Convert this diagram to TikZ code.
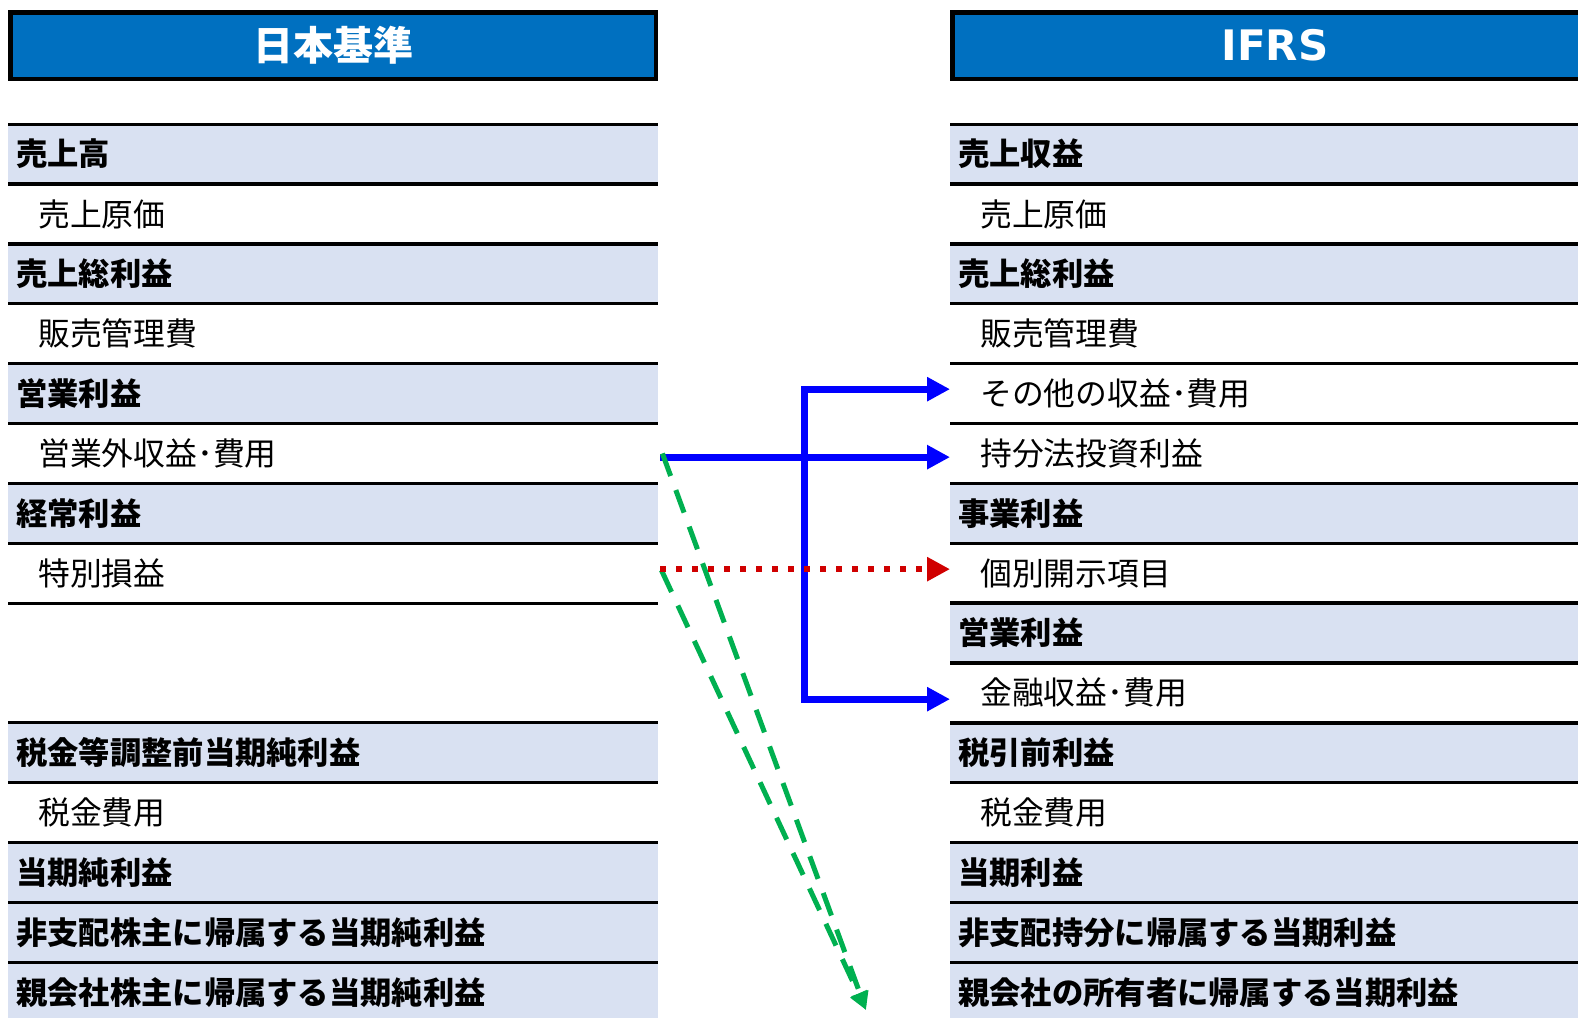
\documentclass[tikz,border=0pt]{standalone}
\usepackage{fontspec}
\setmainfont{Noto Sans CJK JP}
\newfontfamily\dvs{DejaVu Sans}
\usetikzlibrary{arrows.meta}
\definecolor{hdrblue}{HTML}{0070C0}
\definecolor{rowfill}{HTML}{D9E1F2}
\definecolor{arrblue}{HTML}{0000FF}
\definecolor{arrred}{HTML}{D00000}
\definecolor{arrgreen}{HTML}{00B050}
\begin{document}
\begin{tikzpicture}[x=1pt,y=-1pt,
 hdr/.style={draw=black, line width=4.5pt, fill=hdrblue, minimum width=645.5pt, minimum height=66.5pt, text=white, font=\fontsize{40}{40}\selectfont\bfseries, inner sep=0pt},
 rowbase/.style={anchor=north west, minimum width=650pt, minimum height=59.86pt, text width=634pt, inner xsep=8pt, inner ysep=0pt, align=left},
 brow/.style={rowbase, fill=rowfill, font=\fontsize{31.3}{32}\selectfont\bfseries},
 nrow/.style={rowbase, font=\fontsize{31.8}{32}\selectfont, execute at begin node=\hspace*{22pt}},
 sepline/.style={draw=black, line width=3pt},
 blueln/.style={draw=arrblue, line width=7pt},
 bigtip/.style={-{Triangle[length=23pt,width=23pt]}},
 redln/.style={draw=arrred, line width=6.5pt, dash pattern=on 6pt off 10pt, -{Triangle[length=23pt,width=23pt]}},
 greenln/.style={draw=arrgreen, line width=5pt, dash pattern=on 24pt off 15pt, -{Triangle[length=18pt,width=17pt]}}
]
\useasboundingbox (0,0) rectangle (1578,1017);
\clip (0,0) rectangle (1578,1017);
\fill[white] (0,0) rectangle (1578,1017);

% headers
\node[hdr] (HL) at (333,45.5) {日本基準};
\node[hdr, font=\dvs\bfseries\fontsize{42}{42}\selectfont] (HR) at (1275,45.5) {IFRS};

% left rows
\foreach \i/\s/\t in {0/brow/売上高, 1/nrow/売上原価, 2/brow/売上総利益, 3/nrow/販売管理費, 4/brow/営業利益, 5/nrow/営業外収益･費用, 6/brow/経常利益, 7/nrow/特別損益, 10/brow/税金等調整前当期純利益, 11/nrow/税金費用, 12/brow/当期純利益, 13/brow/非支配株主に帰属する当期純利益, 14/brow/親会社株主に帰属する当期純利益}
  \node[\s] (L\i) at (8,{124+59.86*\i}) {\t};

% right rows
\foreach \i/\s/\t in {0/brow/売上収益, 1/nrow/売上原価, 2/brow/売上総利益, 3/nrow/販売管理費, 4/nrow/その他の収益･費用, 5/nrow/持分法投資利益, 6/brow/事業利益, 7/nrow/個別開示項目, 8/brow/営業利益, 9/nrow/金融収益･費用, 10/brow/税引前利益, 11/nrow/税金費用, 12/brow/当期利益, 13/brow/非支配持分に帰属する当期利益, 14/brow/親会社の所有者に帰属する当期利益}
  \node[\s] (R\i) at (950,{124+59.86*\i}) {\t};

% separator lines
\foreach \i in {0,...,7,10,11,12,13,14} {
  \draw[sepline] (L\i.north west) -- (L\i.north east);
  \draw[sepline] (L\i.south west) -- (L\i.south east);
}
\foreach \i in {0,...,14} {
  \draw[sepline] (R\i.north west) -- (R\i.north east);
  \draw[sepline] (R\i.south west) -- (R\i.south east);
}

% connectors
\coordinate (vx) at (804,0);
\coordinate (a4) at ([yshift=4.4pt]R4.west);
\coordinate (a9) at ([yshift=-6.3pt]R9.west);
\coordinate (gEnd) at (866,1010);

\draw[blueln, bigtip] ([yshift=-3.7pt,xshift=2pt]L5.east) -- ([yshift=-3.7pt]R5.west);
\draw[blueln, {Triangle[length=23pt,width=23pt]}-{Triangle[length=23pt,width=23pt]}] (a4) -- (a4 -| vx) -- (a9 -| vx) -- (a9);
\draw[greenln] ([xshift=4pt]L5.east) -- (gEnd);
\draw[greenln] ([xshift=3pt,yshift=3pt]L7.east) -- (gEnd);
\draw[redln] ([yshift=4pt,xshift=2pt]L7.east) -- ([yshift=4pt]R7.west);
\end{tikzpicture}
\end{document}
